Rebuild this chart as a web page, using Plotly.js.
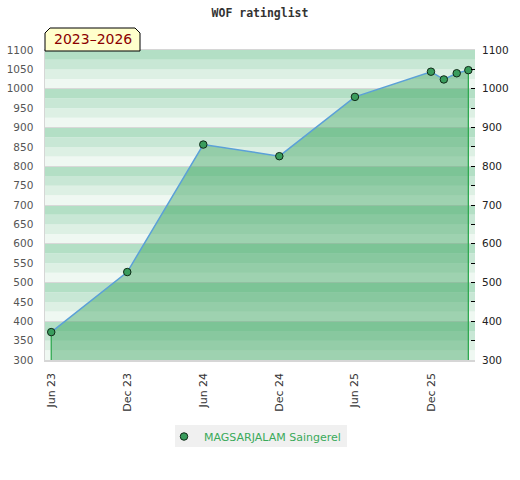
<!DOCTYPE html>
<html>
<head>
<meta charset="utf-8">
<script src="https://cdn.plot.ly/plotly-3.0.1.min.js"></script>
<style>html,body{margin:0;padding:0;background:#fff}#chart{width:520px;height:480px}</style>
</head>
<body>
<div id="chart"></div>
<script>
// ---- data ----
const chartTitle = 'WOF ratinglist';
const periodLabel = '2023\u20132026';
const playerName = 'MAGSARJALAM Saingerel';
const dates = ['2023-06-01','2023-12-01','2024-06-01','2024-12-01','2025-06-01','2025-12-01','2026-01-01','2026-02-01','2026-03-01'];
const ratings = [372, 527, 856, 826, 979, 1044, 1024, 1040, 1048];
const tickDates = ['2023-06-01','2023-12-01','2024-06-01','2024-12-01','2025-06-01','2025-12-01'];
const tickLabels = ['Jun 23','Dec 23','Jun 24','Dec 24','Jun 25','Dec 25'];
const yMin = 300, yMax = 1100;

// ---- layout constants ----
const W = 520, H = 480;
const M = {l:45, r:45, t:50, b:120};
const pw = W - M.l - M.r, ph = H - M.t - M.b;
const bandColors = ['#b3dfc5','#c8e7d5','#ddf0e4','#eff8f2'];

const shapes = [];
for (let b = yMin; b < yMax; b += 25) {
  const idx = 3 - ((b % 100) / 25);
  shapes.push({type:'rect', xref:'paper', yref:'y', x0:0, x1:1, y0:b, y1:b+25,
    fillcolor:bandColors[idx], line:{width:0}, layer:'below'});
}
// label box with chamfered top corners (paper coords)
const bx0 = 0, bx1 = 95/pw, byb = 1 - 1/ph, byt = 1 + 22/ph, cx = 5/pw, cy = 5/ph;
shapes.push({type:'path', xref:'paper', yref:'paper',
  path:`M ${bx0} ${byb} L ${bx0} ${byt-cy} L ${bx0+cx} ${byt} L ${bx1-cx} ${byt} L ${bx1} ${byt-cy} L ${bx1} ${byb} Z`,
  fillcolor:'#ffffcc', line:{color:'#000', width:1}, layer:'above'});
// legend background box
shapes.push({type:'rect', xref:'paper', yref:'paper',
  x0:(175-M.l)/pw, x1:(347-M.l)/pw, y0:(M.t+ph-447)/ph, y1:(M.t+ph-425)/ph,
  fillcolor:'#f0f0f0', line:{width:0}, layer:'above'});

const n = dates.length;
const traces = [
  { // filled area + line
    x: dates, y: ratings, type:'scatter', mode:'lines', fill:'tozeroy',
    fillcolor:'rgba(50,160,88,0.43)', line:{color:'#5ba0d8', width:1.5},
    showlegend:false, hoverinfo:'skip'
  },
  { // left drop line
    x:[dates[0], dates[0]], y:[yMin, ratings[0]], type:'scatter', mode:'lines',
    line:{color:'#2fa850', width:1.3}, showlegend:false, hoverinfo:'skip'
  },
  { // right drop line
    x:[dates[n-1], dates[n-1]], y:[yMin, ratings[n-1]], type:'scatter', mode:'lines',
    line:{color:'#2fa850', width:1.3}, showlegend:false, hoverinfo:'skip'
  },
  { // markers
    x: dates, y: ratings, type:'scatter', mode:'markers', name: playerName,
    marker:{color:'#3a9d5d', size:7.5, line:{color:'#102a18', width:1}}
  },
  { // invisible trace for right axis
    x: dates, y: ratings, yaxis:'y2', type:'scatter', mode:'markers',
    marker:{opacity:0}, showlegend:false, hoverinfo:'skip'
  }
];

const layout = {
  width:W, height:H, margin:M,
  paper_bgcolor:'#fff', plot_bgcolor:'#fff',
  font:{family:'DejaVu Sans, Verdana, sans-serif', size:11, color:'#333'},
  title:{text:chartTitle, x:0.5, xref:'container', xanchor:'center', y:1-13/H, yanchor:'middle',
    font:{family:'DejaVu Sans Mono, monospace', size:11.5, color:'#333', weight:'bold'}},
  xaxis:{type:'date', range:['2023-05-17','2026-03-17'], tickvals:tickDates, ticktext:tickLabels,
    tickangle:-90, showgrid:false, zeroline:false, ticks:'', showline:true, linecolor:'#d6d6d6',
    linewidth:1.5, mirror:true, tickfont:{size:11, color:'#333'}, ticklabelstandoff:7},
  yaxis:{range:[yMin,yMax], dtick:50, tick0:0, showgrid:false, zeroline:false, ticks:'',
    showline:true, linecolor:'#d6d6d6', linewidth:1.5, tickfont:{size:10.5, color:'#555'},
    ticklabelstandoff:8},
  yaxis2:{range:[yMin,yMax], overlaying:'y', side:'right', dtick:100, tick0:0,
    showgrid:true, gridcolor:'#d8d8d8', gridwidth:1, zeroline:false,
    ticks:'inside', ticklen:4, tickcolor:'#000', tickwidth:1,
    minor:{dtick:50, ticks:'inside', ticklen:4, tickcolor:'#000', showgrid:false},
    tickfont:{size:10.5, color:'#222'}, ticklabelstandoff:6, showline:false},
  legend:{orientation:'h', x:(164-M.l)/pw, xanchor:'left', y:-(422-M.t-ph)/ph, yanchor:'top',
    bgcolor:'rgba(0,0,0,0)', font:{size:11, color:'#3aaa5a'}},
  shapes:shapes,
  annotations:[{xref:'paper', yref:'paper', x:(bx0+bx1)/2, y:(byb+byt)/2, xanchor:'center', yanchor:'middle',
    text:periodLabel, showarrow:false, font:{size:14, color:'#8b0000', family:'DejaVu Sans, sans-serif'}}],
  showlegend:true
};

Plotly.newPlot('chart', traces, layout, {displayModeBar:false, staticPlot:true});
</script>
</body>
</html>
